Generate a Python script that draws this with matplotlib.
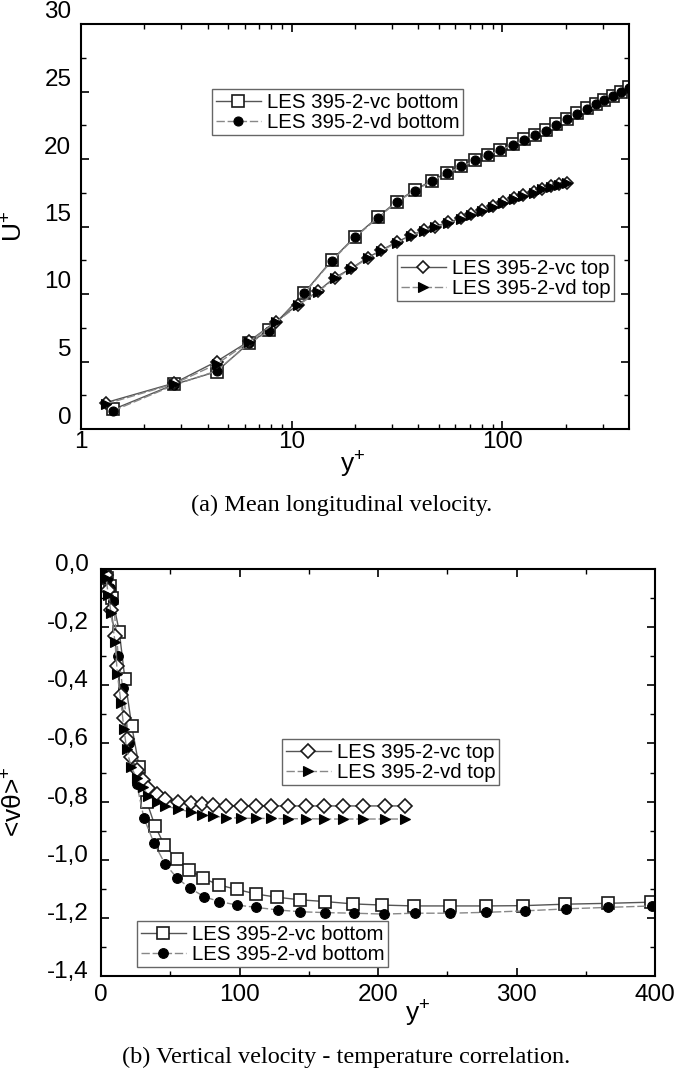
import matplotlib
matplotlib.use('Agg')
import matplotlib.pyplot as plt
from matplotlib.transforms import ScaledTranslation

plt.rcParams['font.family'] = 'Liberation Sans'
plt.rcParams['mathtext.fontset'] = 'custom'
plt.rcParams['mathtext.rm'] = 'Liberation Sans'
plt.rcParams['mathtext.it'] = 'Liberation Sans:italic'

# (a) velocidade média longitudinal - parede de baixo
yp_bot = [1.42, 2.77, 4.4, 6.3, 7.8, 11.5, 15.5, 20.0, 25.7, 31.5, 38.4, 46.3, 54.8, 64.0, 74.5,
          85.5, 98.0, 112, 127, 143, 161, 181, 203, 226, 252, 278, 306, 336, 366, 398]
u_vc_bot = [1.45, 3.3, 4.25, 6.4, 7.3, 10.1, 12.5, 14.25, 15.7, 16.85, 17.7, 18.4, 19.0, 19.5, 19.95,
            20.3, 20.7, 21.1, 21.45, 21.8, 22.15, 22.6, 23.0, 23.4, 23.75, 24.1, 24.4, 24.7, 25.0, 25.3]
u_vd_bot = [1.35, 3.25, 4.3, 6.35, 7.25, 10.05, 12.45, 14.2, 15.65, 16.8, 17.65, 18.35, 18.95, 19.45, 19.9,
            20.3, 20.65, 21.05, 21.4, 21.75, 22.1, 22.55, 22.95, 23.35, 23.7, 24.05, 24.35, 24.65, 24.95, 25.25]

# (a) parede de cima
yp_top = [1.31, 2.77, 4.4, 6.28, 8.4, 10.7, 13.3, 16.0, 19.2, 23.0, 26.7, 31.5, 37.0, 42.6,
          48.0, 55.0, 63.5, 71.3, 80.0, 90.0, 101, 114, 126, 141, 155, 170, 186, 202]
u_vc_top = [1.95, 3.4, 5.0, 6.5, 7.95, 9.2, 10.2, 11.2, 11.9, 12.7, 13.25, 13.85, 14.35, 14.75,
            15.0, 15.3, 15.6, 15.9, 16.2, 16.5, 16.8, 17.1, 17.3, 17.55, 17.8, 18.0, 18.15, 18.25]
u_vd_top = [1.85, 3.35, 4.8, 6.45, 7.9, 9.15, 10.15, 11.15, 11.85, 12.65, 13.2, 13.8, 14.3, 14.7,
            14.95, 15.25, 15.55, 15.85, 16.15, 16.45, 16.75, 17.05, 17.25, 17.5, 17.75, 17.95, 18.1, 18.2]

# (b) correlação v-theta
yp2_vc_bot = [1.4, 2.8, 4.4, 6.3, 8.2, 13.2, 17.3, 22.2, 27.5, 33.0, 39.0, 45.7, 54.6, 63.8, 73.9,
              85.2, 98.0, 112, 127, 144, 162, 182, 203, 226, 252, 278, 305, 335, 366, 397]
vt_vc_bot = [-0.003, -0.012, -0.03, -0.06, -0.10, -0.215, -0.38, -0.54, -0.68, -0.80, -0.884, -0.949,
             -0.998, -1.035, -1.064, -1.087, -1.102, -1.118, -1.129, -1.138, -1.144, -1.152, -1.156,
             -1.159, -1.159, -1.159, -1.158, -1.153, -1.150, -1.146]
yp2_vd_bot = [1.4, 2.8, 4.4, 6.3, 8.9, 12.5, 15.7, 20.4, 25.8, 31.0, 38.3, 46.2, 55.1, 64.3, 74.4,
              85.4, 98.4, 112, 128, 144, 162, 183, 204, 227, 252, 278, 306, 336, 366, 398]
vt_vd_bot = [-0.004, -0.015, -0.035, -0.065, -0.11, -0.30, -0.41, -0.60, -0.74, -0.857, -0.943, -1.014,
             -1.064, -1.098, -1.127, -1.144, -1.156, -1.164, -1.173, -1.179, -1.182, -1.184, -1.187,
             -1.184, -1.184, -1.181, -1.176, -1.169, -1.164, -1.159]
yp2_top = [1.3, 3.6, 5.3, 7.2, 10.1, 11.8, 14.4, 16.6, 18.5, 21.7, 25.8, 30.1, 34.2, 40.2, 46.0,
           55.4, 64.8, 72.6, 81.0, 90.5, 100.8, 111.7, 122.7, 135.2, 147.7, 161.2, 175.0, 189.3, 204.7, 219.7]
vt_vc_top = [-0.005, -0.02, -0.071, -0.14, -0.232, -0.335, -0.433, -0.513, -0.584, -0.645, -0.69, -0.725,
             -0.754, -0.775, -0.79, -0.80, -0.805, -0.81, -0.812, -0.814, -0.815, -0.815, -0.815,
             -0.815, -0.815, -0.815, -0.815, -0.815, -0.815, -0.815]
vt_vd_top = [-0.006, -0.03, -0.09, -0.15, -0.25, -0.36, -0.46, -0.55, -0.62, -0.68, -0.72, -0.75,
             -0.78, -0.80, -0.815, -0.825, -0.836, -0.845, -0.85, -0.855, -0.857, -0.858, -0.858,
             -0.859, -0.859, -0.86, -0.86, -0.86, -0.86, -0.86]

lab_vc_bot = 'LES 395-2-vc bottom'
lab_vd_bot = 'LES 395-2-vd bottom'
lab_vc_top = 'LES 395-2-vc top'
lab_vd_top = 'LES 395-2-vd top'

W, H = 676, 1074
fig = plt.figure(figsize=(W / 100, H / 100), dpi=100)

ax1 = fig.add_axes([81 / W, 1 - 429 / H, 548 / W, 405 / H])
ax2 = fig.add_axes([101 / W, 1 - 976 / H, 554 / W, 407 / H])

ec = '#1a1a1a'
sq = dict(marker='s', mfc='white', mec=ec, mew=1.2, color='#555555', lw=1.0, ls='-')
ci = dict(marker='o', mfc='black', mec='black', mew=0.8, color='#888888', lw=1.0, ls=(0, (6, 2)))
di = dict(marker='D', mfc='white', mec=ec, mew=1.2, color='#555555', lw=1.0, ls='-')
tr = dict(marker='>', mfc='black', mec='black', mew=0.8, color='#888888', lw=1.0, ls=(0, (6, 2)))

# Gráfico (a)
h1, = ax1.plot(yp_bot, u_vc_bot, ms=8, label=lab_vc_bot, **sq)
h2, = ax1.plot(yp_bot, u_vd_bot, ms=6.5, label=lab_vd_bot, **ci)
h3, = ax1.plot(yp_top, u_vc_top, ms=6.5, label=lab_vc_top, **di)
h4, = ax1.plot(yp_top, u_vd_top, ms=7, label=lab_vd_top, **tr)

ax1.set_xscale('log')
ax1.set_xlim(1, 400)
ax1.set_ylim(0, 30)
ax1.set_xticks([1, 10, 100], ['1', '10', '100'])
ax1.set_xticks([2, 3, 4, 5, 6, 7, 8, 9, 20, 30, 40, 50, 60, 70, 80, 90, 200, 300], minor=True)
ax1.set_xticklabels([], minor=True)
ax1.set_yticks([0, 5, 10, 15, 20, 25, 30], ['0', '5', '10', '15', '20', '25', '30'])
ax1.set_yticks([2.5, 7.5, 12.5, 17.5, 22.5, 27.5], minor=True)
ax1.tick_params(axis='x', which='major', pad=1.5)
ax1.tick_params(axis='y', which='major', pad=7)
ax1.set_ylabel(r'U$^{+}$', fontsize=19)
ax1.yaxis.set_label_coords(-0.098, 0.5)
ax1.set_xlabel(r'y$^{+}$', fontsize=19)
ax1.xaxis.set_label_coords(0.495, -0.052)

# Gráfico (b)
g1, = ax2.plot(yp2_vc_bot, vt_vc_bot, ms=8.5, label=lab_vc_bot, **sq)
g2, = ax2.plot(yp2_vd_bot, vt_vd_bot, ms=7, label=lab_vd_bot, **ci)
g3, = ax2.plot(yp2_top, vt_vc_top, ms=7.5, label=lab_vc_top, **di)
g4, = ax2.plot(yp2_top, vt_vd_top, ms=7.5, label=lab_vd_top, **tr)

ax2.set_xlim(0, 400)
ax2.set_ylim(-1.4, 0)
ax2.set_xticks([0, 100, 200, 300, 400], ['0', '100', '200', '300', '400'])
ax2.set_xticks([50, 150, 250, 350], minor=True)
yt = [0, -0.2, -0.4, -0.6, -0.8, -1.0, -1.2, -1.4]
ax2.set_yticks(yt, ['0,0', '-0,2', '-0,4', '-0,6', '-0,8', '-1,0', '-1,2', '-1,4'])
ax2.set_yticks([-0.1, -0.3, -0.5, -0.7, -0.9, -1.1, -1.3], minor=True)
ax2.tick_params(axis='x', which='major', pad=6)
ax2.tick_params(axis='y', which='major', pad=9)
ax2.set_ylabel('<vθ>$^{+}$', fontsize=19)
ax2.yaxis.set_label_coords(-0.132, 0.4275)
ax2.set_xlabel(r'y$^{+}$', fontsize=19)
ax2.xaxis.set_label_coords(0.572, -0.055)

for ax, dy in [(ax1, 14), (ax2, 6.5)]:
    ax.tick_params(which='both', direction='in', top=True, right=True, labelsize=17.5)
    ax.tick_params(which='major', length=6, width=1.2)
    ax.tick_params(which='minor', length=3.5, width=1.0)
    for s in ax.spines.values():
        s.set_linewidth(1.5)
    # os rótulos do eixo y ficam um pouco acima dos ticks no original
    for t in ax.get_yticklabels():
        t.set_transform(t.get_transform() + ScaledTranslation(0, dy / 100, fig.dpi_scale_trans))

leg_kw = dict(loc='upper left', bbox_transform=fig.transFigure, borderaxespad=0, fontsize=14.7,
              fancybox=False, edgecolor='#666666', framealpha=1, borderpad=0.18,
              labelspacing=0.05, handlelength=2.2, handletextpad=0.3)

def legenda(ax, handles, x, y):
    leg = ax.legend(handles=handles, bbox_to_anchor=(x / W, 1 - y / H), **leg_kw)
    leg.get_frame().set_linewidth(1.0)
    return leg

l1 = legenda(ax1, [h1, h2], 212, 89)
ax1.add_artist(l1)
legenda(ax1, [h3, h4], 397, 255)

l3 = legenda(ax2, [g3, g4], 282, 739)
ax2.add_artist(l3)
legenda(ax2, [g1, g2], 137, 921)

fig.text(342 / W, 1 - 505 / H, '(a) Mean longitudinal velocity.', ha='center', va='center',
         fontsize=17.5, family='Liberation Serif')
fig.text(346 / W, 1 - 1057 / H, '(b) Vertical velocity - temperature correlation.', ha='center',
         va='center', fontsize=17.5, family='Liberation Serif')

fig.savefig('out.png', dpi=100)
